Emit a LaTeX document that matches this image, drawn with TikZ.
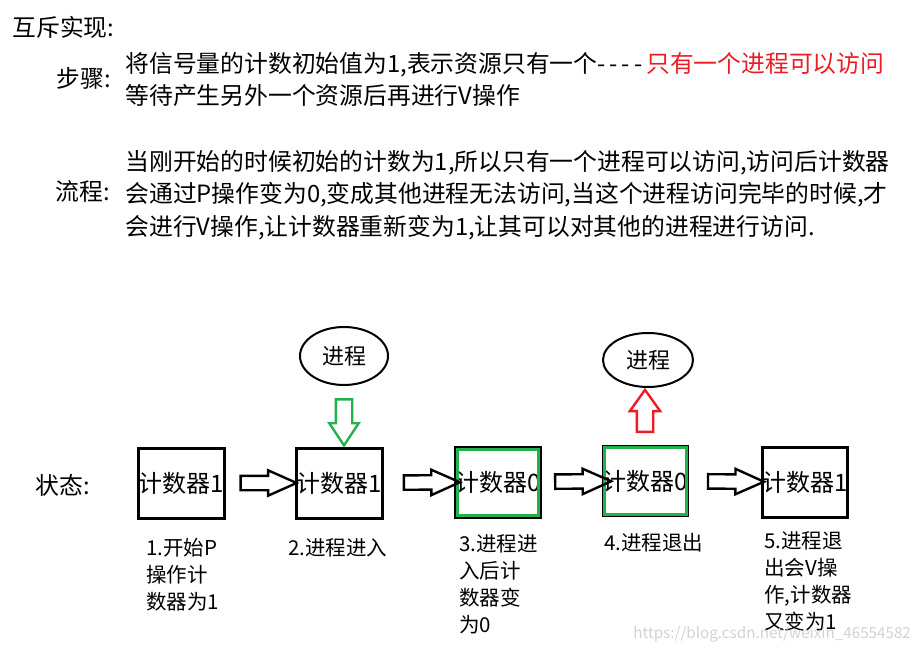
\documentclass[tikz,border=0pt]{standalone}
\usepackage{fontspec}
\setmainfont{Noto Sans CJK SC}
\usetikzlibrary{shapes.geometric,shapes.arrows}
\definecolor{pred}{RGB}{237,28,36}
\definecolor{pgreen}{RGB}{34,177,76}
\tikzset{
  cnt/.style={draw, line width=1.5pt, minimum width=42.5pt, minimum height=35pt, inner sep=0pt, font=\fontsize{12}{14}\selectfont},
  inbox/.style={draw=pgreen, line width=1.5pt},
  proc/.style={draw, ellipse, line width=1pt, inner sep=0pt, font=\fontsize{11}{13}\selectfont},
  barrow/.style={draw, single arrow, line width=1.2pt, inner sep=0pt, text depth=0pt, sloped, single arrow head indent=0pt},
  harrow/.style={barrow, minimum height=28pt, text height=6pt, single arrow head extend=2.75pt, single arrow tip angle=48},
  note/.style={anchor=north west, align=left, inner sep=0pt, font=\fontsize{10.25}{13.5}\selectfont},
  txt/.style={anchor=west, inner sep=0pt, font=\fontsize{11.9}{16}\selectfont},
  para/.style={anchor=north west, align=left, inner sep=0pt, font=\fontsize{11.9}{16.2}\selectfont},
}

\begin{document}
\begin{tikzpicture}[x=0.5pt, y=-0.5pt]
  \useasboundingbox (0,0) rectangle (914,651);
  % text above
  \node[txt] (title) at (12,27) {互斥实现:};
  \node[txt] (steplbl) at (56,78) {步骤:};
  \node[para] (steptxt) at (125,52) {将信号量的计数初始值为1,表示资源只有一个{-}\,{-}\,{-}\,{-}\,\textcolor{pred}{只有一个进程可以访问}\\等待产生另外一个资源后再进行V操作};
  \node[txt] (flowlbl) at (55,191) {流程:};
  \node[para] (flowtxt) at (125,150) {当刚开始的时候初始的计数为1,所以只有一个进程可以访问,访问后计数器\\会通过P操作变为0,变成其他进程无法访问,当这个进程访问完毕的时候,才\\会进行V操作,让计数器重新变为1,让其可以对其他的进程进行访问.};
  % states
  \node[txt] (state) at (35,485) {状态:};
  \node[cnt] (c1) at (181.5,483) {计数器1};
  \node[cnt] (c2) at (339.5,483) {计数器1};
  \node[cnt] (c3) at (498,482) {计数器0};
  \node[cnt, line width=0.8pt] (c4) at (645.5,481) {计数器0};
  \node[cnt] (c5) at (805,482) {计数器1};
  \draw[inbox] ([shift={(3.5,3.5)}]c3.north west) rectangle ([shift={(-3.5,-3.5)}]c3.south east);
  \draw[inbox] ([shift={(2.5,2.5)}]c4.north west) rectangle ([shift={(-2.5,-2.5)}]c4.south east);
  \node[proc, minimum width=44pt, minimum height=29pt] (p1) at (344,356) {进程};
  \node[proc, minimum width=45pt, minimum height=27pt] (p2) at (648,360) {进程};
  % arrows
  \path (c1) -- node[harrow]{} (c2);
  \path (c2) -- node[harrow, xshift=2.5pt]{} (c3);
  \path (c3) -- node[harrow, xshift=1.5pt]{} (c4);
  \path (c4) -- node[harrow, xshift=1.5pt]{} (c5);
  \path (p1.south) -- node[barrow, draw=pgreen, minimum height=23pt, text height=7pt, single arrow head extend=3.25pt, single arrow tip angle=67]{} (p1.south |- c2.north);
  \path (p2.south |- c4.north) -- node[barrow, draw=pred, yshift=1.5pt, minimum height=21pt, text height=7pt, single arrow head extend=3.5pt, single arrow tip angle=71]{} (p2.south);
  % notes
  \node[note] (n1) at (146,538) {1.开始P\\操作计\\数器为1};
  \node[note] (n2) at (288,538) {2.进程进入};
  \node[note] (n3) at (459,534) {3.进程进\\入后计\\数器变\\为0};
  \node[note] (n4) at (604,533) {4.进程退出};
  \node[note] (n5) at (764,531) {5.进程退\\出会V操\\作,计数器\\又变为1};
  \node[anchor=west, inner sep=0pt, text=gray!35, font=\fontsize{7.6}{9}\selectfont] (mark) at (633,634) {https://blog.csdn.net/weixin\_46554582};
\end{tikzpicture}
\end{document}
